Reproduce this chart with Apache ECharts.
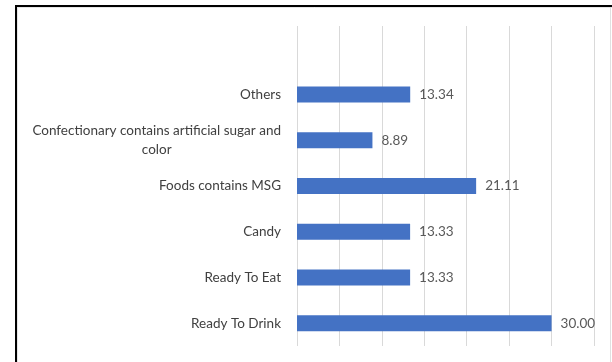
<!DOCTYPE html>
<html>
<head>
<meta charset="utf-8">
<script src="https://cdn.jsdelivr.net/npm/echarts@6/dist/echarts.min.js"></script>
<style>
  html, body { margin: 0; padding: 0; background: #fff; }
  #chart { width: 612px; height: 362px; }
</style>
</head>
<body>
<div id="chart"></div>
<script>
// Category names, listed bottom to top as they appear on the axis
const categories = [
  'Ready To Drink',
  'Ready To Eat',
  'Candy',
  'Foods contains MSG',
  'Confectionary contains artificial sugar and color',
  'Others'
];
// Share per category (%)
const values = [30.00, 13.33, 13.33, 21.11, 8.89, 13.34];

const FONT = 'Lato';
const SIZE = 13.5;
const WRAP_AT = 44;

// Wrap long category names onto two lines; the second line is centred under the first
function wrapLabel(text) {
  if (text.length <= WRAP_AT) return text;
  const cut = text.lastIndexOf(' ', WRAP_AT);
  return '{l|' + text.slice(0, cut) + '}\n{c|' + text.slice(cut + 1) + '}';
}

const chart = echarts.init(document.getElementById('chart'), null, { renderer: 'canvas' });

chart.setOption({
  animation: false,
  backgroundColor: '#ffffff',
  grid: { left: 297, right: 18, top: 26, height: 320, containLabel: false },
  xAxis: {
    type: 'value',
    min: 0,
    max: 35,
    interval: 5,
    axisLabel: { show: false },
    axisLine: { show: false },
    axisTick: { show: false },
    splitLine: { show: true, lineStyle: { color: '#d9d9d9', width: 1 } }
  },
  yAxis: {
    type: 'category',
    data: categories,
    max: 6,
    axisLine: { show: false },
    axisTick: { show: false },
    axisLabel: {
      margin: 16,
      fontFamily: FONT,
      fontSize: SIZE,
      color: '#404040',
      lineHeight: 19,
      formatter: wrapLabel,
      rich: {
        l: { fontFamily: FONT, fontSize: SIZE, color: '#404040', lineHeight: 19 },
        c: { fontFamily: FONT, fontSize: SIZE, color: '#404040', lineHeight: 19, align: 'center' }
      }
    }
  },
  series: [{
    type: 'bar',
    data: values,
    barWidth: 16,
    itemStyle: { color: '#4472c4' },
    label: {
      show: true,
      position: 'right',
      distance: 9,
      fontFamily: FONT,
      fontSize: SIZE,
      color: '#595959',
      formatter: p => p.value.toFixed(2)
    }
  }],
  graphic: [
    // frame lines around the chart area
    { type: 'line', shape: { x1: 15, y1: 6, x2: 612, y2: 6 }, style: { stroke: '#000', lineWidth: 2 }, z: 100 },
    { type: 'line', shape: { x1: 16, y1: 5, x2: 16, y2: 362 }, style: { stroke: '#000', lineWidth: 2 }, z: 100 },
    { type: 'line', shape: { x1: 17, y1: 7.5, x2: 612, y2: 7.5 }, style: { stroke: '#e6e6e6', lineWidth: 1 }, z: 100 },
    { type: 'line', shape: { x1: 17.5, y1: 7, x2: 17.5, y2: 362 }, style: { stroke: '#e6e6e6', lineWidth: 1 }, z: 100 },
    { type: 'line', shape: { x1: 610.5, y1: 7, x2: 610.5, y2: 362 }, style: { stroke: '#e0e0e0', lineWidth: 1 }, z: 100 }
  ]
});
</script>
</body>
</html>
